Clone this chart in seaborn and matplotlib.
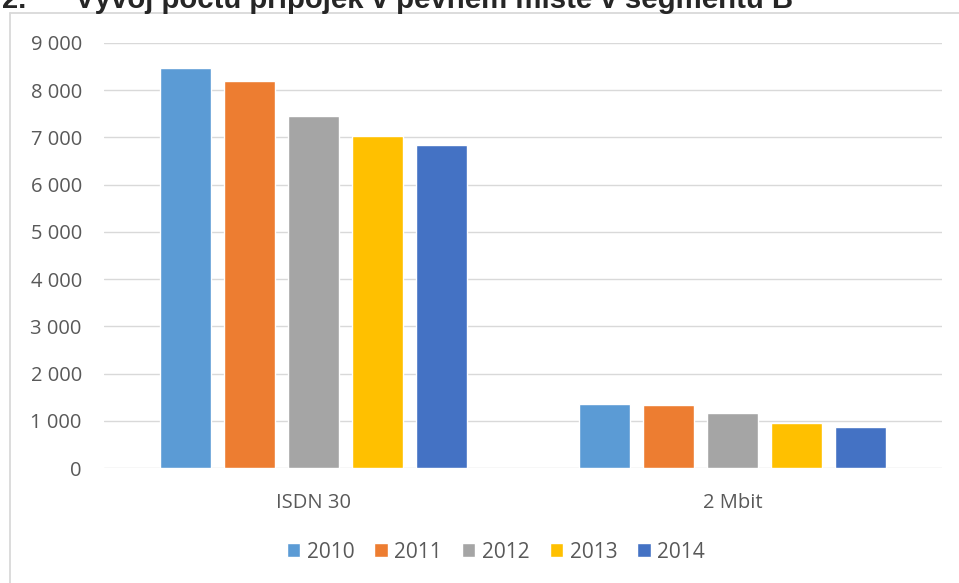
import pandas as pd
import matplotlib.pyplot as plt
import matplotlib.ticker as mticker
from matplotlib.lines import Line2D
import seaborn as sns

# Values
categories = ["ISDN 30", "2 Mbit"]
years = ["2010", "2011", "2012", "2013", "2014"]
isdn30 = [8470, 8200, 7460, 7030, 6840]
mbit2 = [1350, 1330, 1160, 950, 860]
colors = ["#5b9bd5", "#ed7d31", "#a5a5a5", "#ffc000", "#4472c4"]
title_num = "2."
title = "Vývoj počtu přípojek v pevném místě v segmentu B"

df = pd.DataFrame({
    "kategorie": [categories[0]] * 5 + [categories[1]] * 5,
    "rok": years * 2,
    "pocet": isdn30 + mbit2,
})

sns.set_theme(style="white")
plt.rcParams["font.family"] = ["Open Sans", "DejaVu Sans"]

W, H = 959, 583
fig = plt.figure(figsize=(W / 100, H / 100), dpi=100)
ax = fig.add_axes([104 / W, 1 - 468 / H, 838 / W, 425 / H])

# light frame (top and left edges visible, the rest runs off the page)
frame_col = "#d9d9d9"
fig.add_artist(Line2D([10 / W, 1], [1 - 13 / H, 1 - 13 / H], transform=fig.transFigure,
                      color=frame_col, linewidth=1.3))
fig.add_artist(Line2D([10 / W, 10 / W], [0, 1 - 13 / H], transform=fig.transFigure,
                      color=frame_col, linewidth=1.3))

sns.barplot(data=df, x="kategorie", y="pocet", hue="rok", palette=colors,
            saturation=1, width=0.764, gap=0.2, ax=ax, legend=True)

ax.set_ylim(0, 9000)
ax.set_xlim(-0.5, 1.5)
ax.yaxis.set_major_locator(mticker.MultipleLocator(1000))
ax.yaxis.set_major_formatter(mticker.FuncFormatter(lambda v, p: f"{int(v):,}".replace(",", " ")))
ax.grid(axis="y", color="#d9d9d9", linewidth=1)
ax.set_axisbelow(True)
for s in ax.spines.values():
    s.set_visible(False)
ax.set_xlabel("")
ax.set_ylabel("")
ax.tick_params(axis="y", colors="#595959", labelsize=14.5, length=0, pad=16)
ax.tick_params(axis="x", colors="#595959", labelsize=14.5, length=0, pad=18)

handles, labels = ax.get_legend_handles_labels()
ax.get_legend().remove()
fig.legend(handles, labels, loc="center", bbox_to_anchor=(496 / W, 1 - 552 / H),
           ncol=5, frameon=False, fontsize=15, labelcolor="#595959",
           handlelength=0.63, handleheight=0.63, handletextpad=0.33, columnspacing=0.96)

# page heading, cut off at the top edge as in the source
fig.text(2 / W, 1 - 8 / H, title_num, fontsize=21, fontweight="bold",
         family=["Liberation Sans", "DejaVu Sans"], va="baseline", ha="left")
fig.text(75 / W, 1 - 8 / H, title, fontsize=21.2, fontweight="bold",
         family=["Liberation Sans", "DejaVu Sans"], va="baseline", ha="left")

fig.savefig("out.png", dpi=100)
